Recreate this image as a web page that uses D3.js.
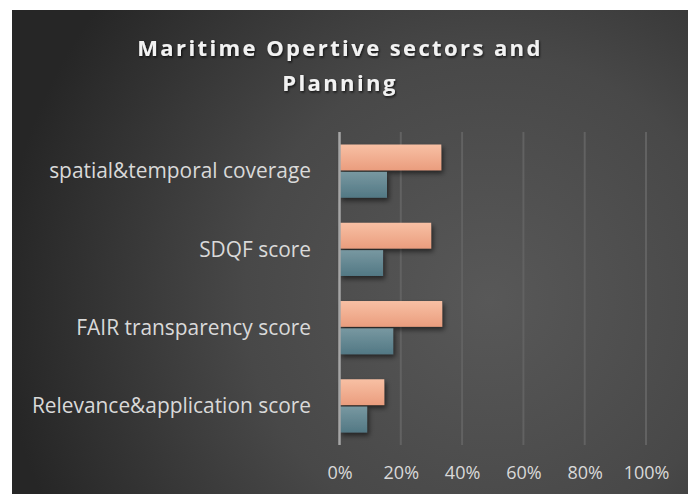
<!DOCTYPE html>
<html>
<head>
<meta charset="utf-8">
<script src="https://cdn.jsdelivr.net/npm/d3@7"></script>
<style>
  body { margin: 0; background: #ffffff; }
  svg { display: block; }
</style>
</head>
<body>
<script>
var categories = ["spatial&temporal coverage", "SDQF score", "FAIR transparency score", "Relevance&application score"];
var seriesNames = ["Series 1", "Series 2"];
var series1 = [0.332, 0.299, 0.335, 0.146];
var series2 = [0.155, 0.142, 0.175, 0.090];
var tickValues = [0, 0.2, 0.4, 0.6, 0.8, 1.0];
var titleLines = ["Maritime Opertive sectors and", "Planning"];

var W = 688, H = 494;
var svg = d3.select("body").append("svg")
    .attr("width", W)
    .attr("height", H);

var defs = svg.append("defs");

var bg = defs.append("radialGradient")
    .attr("id", "bg")
    .attr("gradientUnits", "userSpaceOnUse")
    .attr("cx", 490).attr("cy", 300).attr("r", 490);
bg.append("stop").attr("offset", "0").attr("stop-color", "#585858");
bg.append("stop").attr("offset", "0.5").attr("stop-color", "#484848");
bg.append("stop").attr("offset", "1").attr("stop-color", "#262626");

var g1 = defs.append("linearGradient").attr("id", "pink").attr("x1", 0).attr("y1", 0).attr("x2", 0).attr("y2", 1);
g1.append("stop").attr("offset", "0").attr("stop-color", "#f8c0a4");
g1.append("stop").attr("offset", "1").attr("stop-color", "#ea9d7e");
var g2 = defs.append("linearGradient").attr("id", "blue").attr("x1", 0).attr("y1", 0).attr("x2", 0).attr("y2", 1);
g2.append("stop").attr("offset", "0").attr("stop-color", "#7898a1");
g2.append("stop").attr("offset", "1").attr("stop-color", "#527884");

var shadow = defs.append("filter").attr("id", "shadow")
    .attr("x", "-10%").attr("y", "-30%").attr("width", "130%").attr("height", "180%");
shadow.append("feDropShadow")
    .attr("dx", 2).attr("dy", 3).attr("stdDeviation", 2.5)
    .attr("flood-color", "#000").attr("flood-opacity", 0.55);

var tshadow = defs.append("filter").attr("id", "tshadow");
tshadow.append("feDropShadow")
    .attr("dx", 1).attr("dy", 1.5).attr("stdDeviation", 1)
    .attr("flood-color", "#000").attr("flood-opacity", 0.7);

svg.append("rect")
    .attr("x", 12).attr("y", 10)
    .attr("width", W - 12).attr("height", H - 10)
    .attr("fill", "url(#bg)");

// title
svg.append("g")
    .attr("filter", "url(#tshadow)")
    .selectAll("text")
    .data(titleLines)
    .enter().append("text")
      .attr("x", 340)
      .attr("y", function (d, i) { return 56 + i * 35; })
      .attr("text-anchor", "middle")
      .attr("fill", "#f2f2f2")
      .style("font-family", "'Open Sans', sans-serif")
      .style("font-weight", "bold")
      .style("font-size", "22px")
      .style("letter-spacing", "2.4px")
      .text(function (d) { return d; });

var x = d3.scaleLinear().domain([0, 1]).range([339.5, 646]);
var y = d3.scaleBand().domain(categories).range([132, 445])
    .paddingInner(0.32).paddingOuter(0.16);
var ySub = d3.scaleBand().domain(seriesNames).range([0, y.bandwidth()]).paddingInner(0.06);

// gridlines
svg.append("g")
    .selectAll("line")
    .data(tickValues.slice(1))
    .enter().append("line")
      .attr("x1", function (d) { return x(d); })
      .attr("x2", function (d) { return x(d); })
      .attr("y1", 132).attr("y2", 445)
      .attr("stroke", "#626262")
      .attr("stroke-width", 2);

var rows = categories.map(function (c, i) {
    return [
        { cat: c, s: seriesNames[0], v: series1[i], fill: "url(#pink)" },
        { cat: c, s: seriesNames[1], v: series2[i], fill: "url(#blue)" }
    ];
});

svg.append("g")
    .attr("filter", "url(#shadow)")
    .selectAll("rect")
    .data(d3.merge(rows))
    .enter().append("rect")
      .attr("x", x(0))
      .attr("y", function (d) { return y(d.cat) + ySub(d.s); })
      .attr("width", function (d) { return x(d.v) - x(0); })
      .attr("height", ySub.bandwidth())
      .attr("fill", function (d) { return d.fill; });

// vertical axis line
svg.append("line")
    .attr("x1", x(0)).attr("x2", x(0))
    .attr("y1", 132).attr("y2", 445)
    .attr("stroke", "#a6a6a6")
    .attr("stroke-width", 2.5);

// category labels
svg.append("g")
    .selectAll("text")
    .data(categories)
    .enter().append("text")
      .attr("x", 311)
      .attr("y", function (d) { return y(d) + y.bandwidth() / 2; })
      .attr("dy", "0.35em")
      .attr("text-anchor", "end")
      .attr("fill", "#d9d9d9")
      .style("font-family", "'Open Sans', sans-serif")
      .style("font-size", "20.9px")
      .text(function (d) { return d; });

// x axis tick labels
var xAxis = d3.axisBottom(x)
    .tickValues(tickValues)
    .tickFormat(d3.format(".0%"))
    .tickSize(0)
    .tickPadding(0);

var ax = svg.append("g")
    .attr("transform", "translate(0,467)")
    .call(xAxis);
ax.select(".domain").remove();
ax.selectAll("text")
    .attr("fill", "#d9d9d9")
    .attr("dy", "0.35em")
    .attr("y", 6)
    .style("font-family", "'Open Sans', sans-serif")
    .style("font-size", "18px");
</script>
</body>
</html>
